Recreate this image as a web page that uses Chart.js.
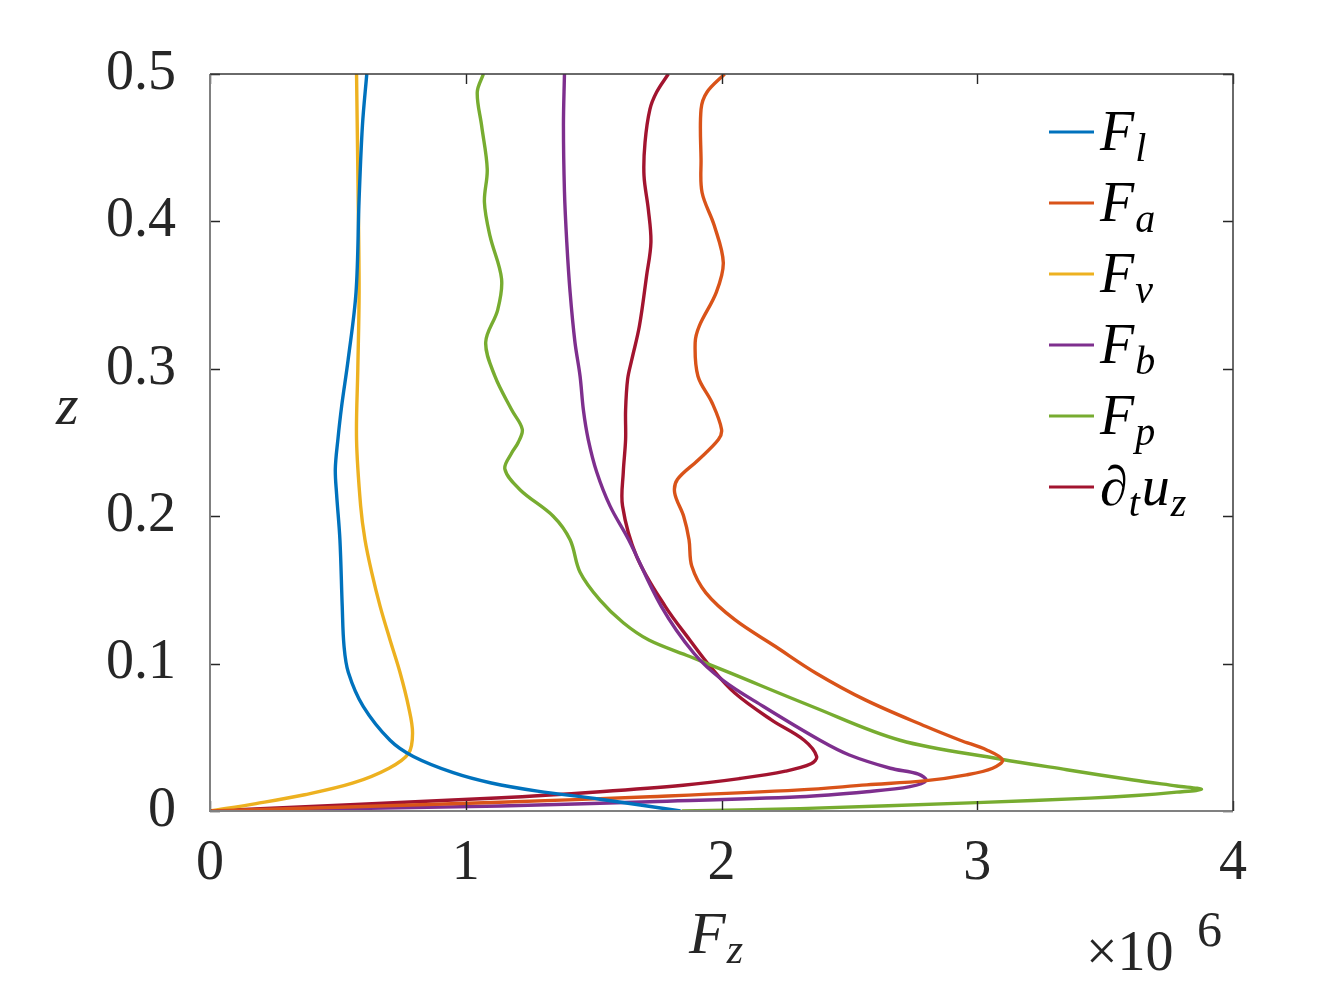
<!DOCTYPE html>
<html><head><meta charset="utf-8">
<script src="https://cdn.jsdelivr.net/npm/chart.js@4/dist/chart.umd.min.js"></script>
<style>html,body{margin:0;padding:0;background:#fff}</style>
</head><body>
<canvas id="c" width="1344" height="986"></canvas>
<script>
// ---- tick labels ----
const xTicks = [0, 1, 2, 3, 4];            // F_z in units of 10^6
const zTicks = [0, 0.1, 0.2, 0.3, 0.4, 0.5];

// ---- series names (underscore = subscript) ----
const seriesNames = ['F_l', 'F_a', 'F_v', 'F_b', 'F_p', '∂_t u_z'];

// ---- F_l ----
const FlZ = [0, 0.008, 0.0135, 0.019, 0.026, 0.037, 0.048, 0.071, 0.094, 0.112, 0.139, 0.184, 0.215, 0.232, 0.252, 0.275, 0.306, 0.352, 0.415, 0.465, 0.5];
const FlX = [1.84, 1.525, 1.28, 1.10, 0.951, 0.795, 0.704, 0.599, 0.541, 0.524, 0.517, 0.508, 0.495, 0.49, 0.50, 0.515, 0.54, 0.571, 0.583, 0.596, 0.613];

// ---- F_a ----
const FaZ = [0, 0.0059, 0.0097, 0.0143, 0.0177, 0.0206, 0.0245, 0.029, 0.0346, 0.0414, 0.048, 0.0573, 0.0754, 0.0935, 0.1116, 0.1298, 0.148, 0.166, 0.184, 0.2, 0.2158, 0.225, 0.238, 0.252, 0.259, 0.277, 0.295, 0.3177, 0.329, 0.352, 0.372, 0.397, 0.4196, 0.442, 0.476, 0.4876, 0.5];
const FaX = [0, 1.134, 1.72, 2.307, 2.568, 2.8, 2.958, 3.06, 3.099, 3.037, 2.933, 2.80, 2.562, 2.37, 2.211, 2.052, 1.939, 1.884, 1.873, 1.852, 1.817, 1.828, 1.908, 1.988, 2.0, 1.963, 1.908, 1.897, 1.913, 1.98, 2.007, 1.972, 1.924, 1.92, 1.92, 1.943, 2.012];

// ---- F_v ----
const FvZ = [0, 0.005, 0.011, 0.019, 0.029, 0.039, 0.053, 0.071, 0.094, 0.116, 0.139, 0.162, 0.184, 0.207, 0.252, 0.30, 0.352, 0.42, 0.5];
const FvX = [0, 0.18, 0.37, 0.56, 0.70, 0.776, 0.792, 0.776, 0.743, 0.704, 0.665, 0.632, 0.606, 0.589, 0.573, 0.578, 0.583, 0.579, 0.573];

// ---- F_b ----
const FbZ = [0, 0.0034, 0.0063, 0.0097, 0.0131, 0.0165, 0.0206, 0.025, 0.029, 0.038, 0.048, 0.0709, 0.089, 0.107, 0.139, 0.184, 0.207, 0.230, 0.252, 0.272, 0.295, 0.318, 0.352, 0.386, 0.42, 0.465, 0.5];
const FbX = [0, 1.134, 1.72, 2.307, 2.568, 2.737, 2.8, 2.77, 2.66, 2.5, 2.385, 2.164, 2.003, 1.892, 1.764, 1.637, 1.564, 1.512, 1.479, 1.46, 1.447, 1.427, 1.408, 1.395, 1.386, 1.382, 1.386];

// ---- F_p ----
const FpZ = [0, 0.0016, 0.0057, 0.0087, 0.0105, 0.0128, 0.0147, 0.017, 0.021, 0.028, 0.0353, 0.048, 0.0709, 0.0935, 0.1048, 0.116, 0.1277, 0.143, 0.162, 0.184, 0.200, 0.218, 0.232, 0.243, 0.25, 0.259, 0.272, 0.295, 0.318, 0.340, 0.361, 0.390, 0.413, 0.4355, 0.465, 0.4876, 0.5];
const FpX = [1.844, 2.307, 2.998, 3.44, 3.62, 3.78, 3.877, 3.78, 3.61, 3.35, 3.089, 2.698, 2.354, 2.036, 1.876, 1.716, 1.616, 1.525, 1.447, 1.408, 1.342, 1.212, 1.153, 1.18, 1.205, 1.221, 1.18, 1.114, 1.078, 1.125, 1.14, 1.095, 1.073, 1.084, 1.062, 1.045, 1.069];

// ---- ∂_t u_z ----
const DtZ = [0, 0.009, 0.0131, 0.0175, 0.022, 0.027, 0.032, 0.037, 0.048, 0.0618, 0.08, 0.098, 0.116, 0.1388, 0.1728, 0.207, 0.230, 0.252, 0.272, 0.293, 0.306, 0.329, 0.363, 0.3857, 0.408, 0.431, 0.4536, 0.476, 0.4876, 0.5];
const DtX = [0, 1.14, 1.525, 1.85, 2.07, 2.25, 2.35, 2.372, 2.323, 2.195, 2.052, 1.956, 1.876, 1.78, 1.668, 1.613, 1.616, 1.625, 1.625, 1.633, 1.649, 1.679, 1.707, 1.724, 1.714, 1.697, 1.701, 1.72, 1.746, 1.792];

const seriesColors = ['#0072BD', '#D95319', '#EDB120', '#7E2F8E', '#77AC30', '#A2142F'];
const seriesX = [FlX, FaX, FvX, FbX, FpX, DtX];
const seriesZ = [FlZ, FaZ, FvZ, FbZ, FpZ, DtZ];

const SERIF = '"Liberation Serif", "Times New Roman", serif';
const TXT = '#262626';

function pts(xs, zs) { return xs.map((v, i) => ({x: v, y: zs[i]})); }

function drawMath(ctx, str, x, baseline, size, subSize, subDrop) {
  let cx = x;
  str.split(' ').forEach(tok => {
    const parts = tok.split('_');
    ctx.font = 'italic ' + size + 'px ' + SERIF;
    ctx.fillText(parts[0], cx, baseline);
    cx += ctx.measureText(parts[0]).width;
    if (parts[1]) {
      ctx.font = 'italic ' + subSize + 'px ' + SERIF;
      ctx.fillText(parts[1], cx + 1, baseline + subDrop);
      cx += ctx.measureText(parts[1]).width + 3;
    }
  });
  return cx;
}

const framePlugin = {
  id: 'framePlugin',
  afterDatasetsDraw(chart) {
    const {ctx, chartArea: a, scales: {x, y}} = chart;
    ctx.save();
    ctx.strokeStyle = TXT;
    ctx.lineWidth = 1.4;
    ctx.beginPath();
    xTicks.forEach(v => {
      const px = Math.round(x.getPixelForValue(v)) + 0.5;
      ctx.moveTo(px, a.bottom); ctx.lineTo(px, a.bottom - 10);
      ctx.moveTo(px, a.top); ctx.lineTo(px, a.top + 10);
    });
    zTicks.forEach(v => {
      const py = Math.round(y.getPixelForValue(v)) + 0.5;
      ctx.moveTo(a.left, py); ctx.lineTo(a.left + 10, py);
      ctx.moveTo(a.right, py); ctx.lineTo(a.right - 10, py);
    });
    ctx.stroke();
    ctx.lineWidth = 2;
    ctx.strokeStyle = '#808080';
    ctx.beginPath();
    ctx.moveTo(a.left, a.top); ctx.lineTo(a.left, a.bottom); ctx.lineTo(a.right, a.bottom);
    ctx.stroke();
    ctx.strokeStyle = '#3a3a3a';
    ctx.lineWidth = 1.5;
    ctx.beginPath();
    ctx.moveTo(a.left, a.top); ctx.lineTo(a.right, a.top); ctx.lineTo(a.right, a.bottom);
    ctx.stroke();

    // legend
    ctx.textBaseline = 'alphabetic';
    ctx.textAlign = 'left';
    const rowY0 = 132, rowStep = 71;
    chart.data.datasets.forEach((ds, i) => {
      const ry = rowY0 + i * rowStep;
      ctx.strokeStyle = ds.borderColor;
      ctx.lineWidth = 3;
      ctx.beginPath();
      ctx.moveTo(1049, ry); ctx.lineTo(1094, ry);
      ctx.stroke();
      ctx.fillStyle = '#000';
      drawMath(ctx, ds.label, 1100, ry + 18, 56, 40, 11);
    });

    // axis titles
    ctx.fillStyle = TXT;
    drawMath(ctx, 'z', 56, 424, 58, 40, 0);
    drawMath(ctx, 'F_z', 689, 953, 60, 42, 10);
    ctx.font = '56px ' + SERIF;
    ctx.fillText('×10', 1086, 970);
    ctx.font = '50px ' + SERIF;
    ctx.fillText('6', 1197, 946);
    ctx.restore();
  }
};

function build() {
  const datasets = seriesNames.map((n, i) => ({
    label: n,
    data: pts(seriesX[i], seriesZ[i]),
    borderColor: seriesColors[i],
    backgroundColor: seriesColors[i],
    borderWidth: 3.4,
    pointRadius: 0,
    showLine: true,
    fill: false,
    tension: 0.35
  }));
  new Chart(document.getElementById('c'), {
    type: 'scatter',
    data: {datasets},
    options: {
      responsive: false,
      animation: false,
      events: [],
      layout: {padding: {top: 74, right: 111, left: 0, bottom: 0}},
      plugins: {legend: {display: false}, tooltip: {enabled: false}},
      scales: {
        x: {
          type: 'linear', min: 0, max: 4,
          afterBuildTicks: s => { s.ticks = xTicks.map(v => ({value: v})); },
          ticks: {font: {family: SERIF, size: 56}, color: TXT, padding: 20, maxRotation: 0},
          grid: {display: false, drawTicks: false},
          border: {display: false},
          afterFit: s => { s.height = 175; }
        },
        y: {
          type: 'linear', min: 0, max: 0.5,
          afterBuildTicks: s => { s.ticks = zTicks.map(v => ({value: v})); },
          ticks: {font: {family: SERIF, size: 56}, color: TXT, padding: 34,
                  callback: v => String(v)},
          grid: {display: false, drawTicks: false},
          border: {display: false},
          afterFit: s => { s.width = 210; }
        }
      }
    },
    plugins: [framePlugin]
  });
}

const fontLoads = [
  '56px "Liberation Serif"', 'italic 56px "Liberation Serif"'
].map(f => document.fonts.load(f).catch(() => null));
Promise.all(fontLoads).then(build, build);
</script>
</body></html>
